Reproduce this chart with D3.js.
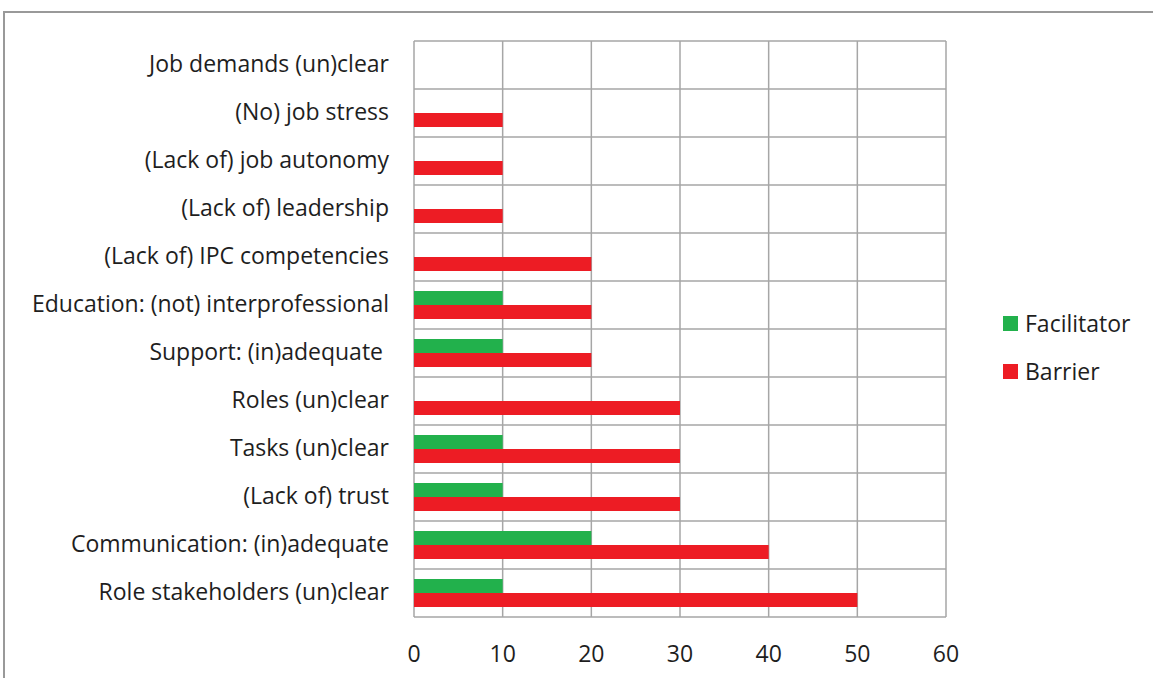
<!DOCTYPE html>
<html>
<head>
<meta charset="utf-8">
<script src="https://cdn.jsdelivr.net/npm/d3@7"></script>
<style>
  body { margin: 0; background: #fff; }
  svg text { font-family: "Open Sans", sans-serif; fill: #1e1e1e; }
</style>
</head>
<body>
<svg id="chart"></svg>
<script>
const categories = [
  "Job demands (un)clear",
  "(No) job stress",
  "(Lack of) job autonomy",
  "(Lack of) leadership",
  "(Lack of) IPC competencies",
  "Education: (not) interprofessional",
  "Support: (in)adequate\u00a0",
  "Roles (un)clear",
  "Tasks (un)clear",
  "(Lack of) trust",
  "Communication: (in)adequate",
  "Role stakeholders (un)clear"
];
const facilitator = [0, 0, 0, 0, 0, 10, 10, 0, 10, 10, 20, 10];
const barrier = [0, 10, 10, 10, 20, 20, 20, 30, 30, 30, 40, 50];
const seriesNames = ["Facilitator", "Barrier"];
const xTicks = [0, 10, 20, 30, 40, 50, 60];

const width = 1153, height = 678;
const colors = { Facilitator: "#22b14c", Barrier: "#ed1c24" };
const margin = { left: 414, right: 207, top: 41, bottom: 61 };

const svg = d3.select("#chart").attr("width", width).attr("height", height);

// outer frame (cut off at right and bottom)
svg.append("rect")
  .attr("x", 4).attr("y", 12)
  .attr("width", width + 20).attr("height", height + 20)
  .attr("fill", "none").attr("stroke", "#999").attr("stroke-width", 2);

const x = d3.scaleLinear().domain([0, 60]).range([margin.left, width - margin.right]);
const y = d3.scaleBand().domain(categories).range([margin.top, height - margin.bottom]);

// gridlines
svg.append("g")
  .selectAll("line.v")
  .data(xTicks)
  .enter().append("line")
  .attr("x1", d => x(d)).attr("x2", d => x(d))
  .attr("y1", margin.top).attr("y2", height - margin.bottom)
  .attr("stroke", "#a6a6a6").attr("stroke-width", 1.5);

svg.append("g")
  .selectAll("line.h")
  .data(categories.map(c => y(c)).concat([height - margin.bottom]))
  .enter().append("line")
  .attr("x1", margin.left).attr("x2", width - margin.right)
  .attr("y1", d => d).attr("y2", d => d)
  .attr("stroke", "#a6a6a6").attr("stroke-width", 1.5);

// bars
const barH = 14;
const rows = categories.map((c, i) => ({ c, Facilitator: facilitator[i], Barrier: barrier[i] }));
seriesNames.forEach((s, si) => {
  svg.append("g")
    .selectAll("rect")
    .data(rows.filter(d => d[s] > 0))
    .enter().append("rect")
    .attr("x", x(0))
    .attr("y", d => y(d.c) + y.bandwidth() / 2 - barH + si * barH)
    .attr("width", d => x(d[s]) - x(0))
    .attr("height", barH)
    .attr("fill", colors[s]);
});

// category labels
svg.append("g")
  .selectAll("text")
  .data(categories)
  .enter().append("text")
  .attr("x", 389)
  .attr("y", d => y(d) + y.bandwidth() / 2 - 1)
  .attr("text-anchor", "end")
  .attr("dy", "0.35em")
  .style("font-size", "23px")
  .style("white-space", "pre")
  .text(d => d);

// x tick labels
svg.append("g")
  .selectAll("text")
  .data(xTicks)
  .enter().append("text")
  .attr("x", d => x(d))
  .attr("y", 654)
  .attr("text-anchor", "middle")
  .attr("dy", "0.35em")
  .style("font-size", "23px")
  .text(d => d);

// legend
const legend = svg.append("g").attr("transform", "translate(1003, 316)");
seriesNames.forEach((s, i) => {
  legend.append("rect")
    .attr("x", 0).attr("y", i * 48)
    .attr("width", 15).attr("height", 15)
    .attr("fill", colors[s]);
  legend.append("text")
    .attr("x", 22).attr("y", i * 48 + 8)
    .attr("dy", "0.35em")
    .style("font-size", "23px")
    .text(s);
});
</script>
</body>
</html>
